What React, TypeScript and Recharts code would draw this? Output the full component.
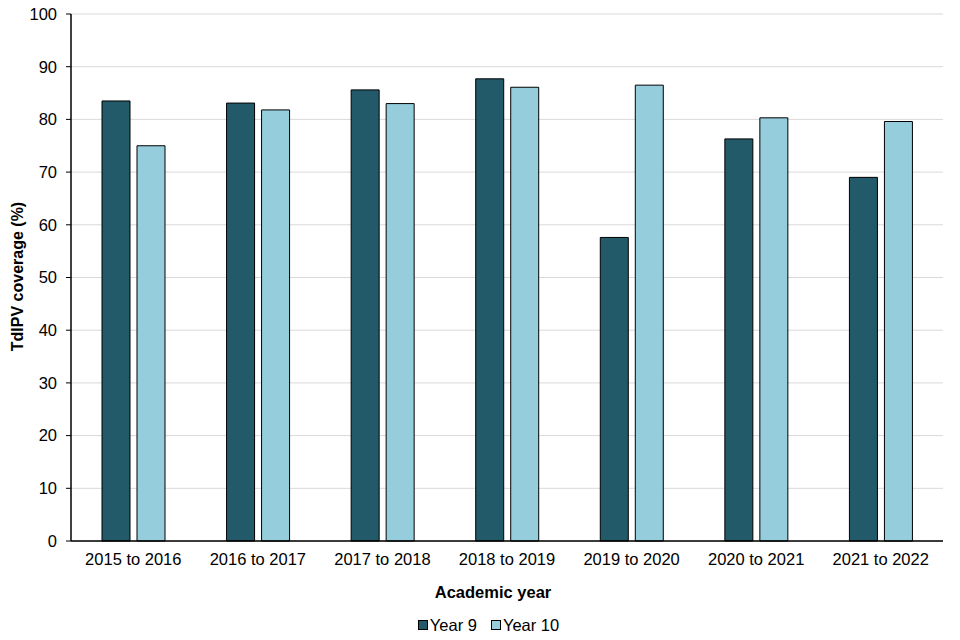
import React from 'react';
import { BarChart, Bar, XAxis, YAxis, CartesianGrid, Legend } from 'recharts';

const categories = ['2015 to 2016', '2016 to 2017', '2017 to 2018', '2018 to 2019', '2019 to 2020', '2020 to 2021', '2021 to 2022'];
const year9 = [83.5, 83.1, 85.6, 87.7, 57.6, 76.3, 69.0];
const year10 = [75.0, 81.8, 83.0, 86.1, 86.5, 80.3, 79.6];
const yTicks = [0, 10, 20, 30, 40, 50, 60, 70, 80, 90, 100];
const seriesNames = ['Year 9', 'Year 10'];

const data = categories.map((c, i) => ({ year: c, y9: year9[i], y10: year10[i] }));

const FONT = '"Liberation Sans", Arial, sans-serif';
const FS = 16.5;
const C9 = '#235a69';
const C10 = '#95cddd';

const LegendContent = (props: any) => {
  const payload = [...(props.payload || [])].sort(
    (a: any, b: any) => seriesNames.indexOf(a.value) - seriesNames.indexOf(b.value)
  );
  return (
    <div style={{ display: 'flex', justifyContent: 'center', alignItems: 'center', fontFamily: FONT, fontSize: FS, color: '#000', lineHeight: '20px', paddingLeft: 17 }}>
      {payload.map((p: any, i: number) => (
        <div key={i} style={{ display: 'flex', alignItems: 'center', marginRight: i === 0 ? 14 : 0 }}>
          <span style={{ display: 'inline-block', width: 8, height: 8, background: p.color, border: '1px solid #000', marginRight: 2 }} />
          <span>{p.value}</span>
        </div>
      ))}
    </div>
  );
};

const YLabel = (props: any) => {
  const vb = props.viewBox;
  const x = vb.x + 17;
  const y = vb.y + vb.height / 2 - 1;
  return (
    <text
      x={x}
      y={y}
      transform={`rotate(-90, ${x}, ${y})`}
      textAnchor="middle"
      dominantBaseline="central"
      style={{ fontFamily: FONT, fontSize: 16, fontWeight: 'bold', fill: '#000' }}
    >
      TdIPV coverage (%)
    </text>
  );
};

export default function App() {
  return (
    <div style={{ position: 'absolute', left: 0, top: 0, width: 960, height: 640, background: '#fff' }}>
      <BarChart width={960} height={640} data={data} margin={{ top: 14, right: 17, left: 0, bottom: 39 }} barGap={7} barSize={28}>
        <CartesianGrid vertical={false} stroke="#d9d9d9" strokeWidth={1} />
        <XAxis
          dataKey="year"
          height={60}
          tickLine={false}
          tickSize={0}
          tickMargin={12}
          axisLine={{ stroke: '#000', strokeWidth: 1.5 }}
          tick={{ fontFamily: FONT, fontSize: FS, fill: '#000' }}
          interval={0}
          label={{ value: 'Academic year', position: 'insideBottom', offset: 3, dx: -14, style: { fontFamily: FONT, fontSize: FS, fontWeight: 'bold', fill: '#000' } }}
        />
        <YAxis
          width={71}
          domain={[0, 100]}
          ticks={yTicks}
          interval={0}
          tickSize={5}
          tickMargin={9}
          tickLine={{ stroke: '#000' }}
          axisLine={{ stroke: '#000', strokeWidth: 1.5 }}
          tick={{ fontFamily: FONT, fontSize: FS, fill: '#000' }}
          label={<YLabel />}
        />
        <Legend verticalAlign="middle" align="center" content={<LegendContent />} wrapperStyle={{ top: 615, left: 0, width: 960 }} />
        <Bar dataKey="y9" name="Year 9" fill={C9} stroke="#000" strokeWidth={1} isAnimationActive={false} />
        <Bar dataKey="y10" name="Year 10" fill={C10} stroke="#000" strokeWidth={1} isAnimationActive={false} />
      </BarChart>
    </div>
  );
}
